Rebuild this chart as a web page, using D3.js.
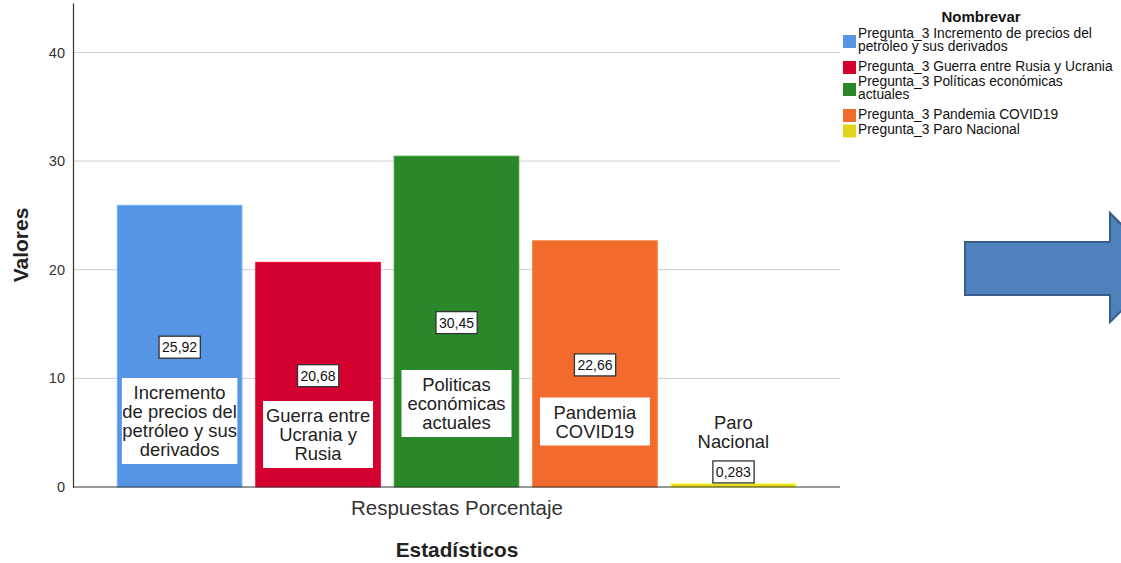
<!DOCTYPE html>
<html>
<head>
<meta charset="utf-8">
<script src="https://cdn.jsdelivr.net/npm/d3@7"></script>
<style>
  html, body { margin: 0; padding: 0; background: #fff; }
  svg { display: block; font-family: "Liberation Sans", Arial, sans-serif; }
</style>
</head>
<body>
<svg id="chart" width="1121" height="563"></svg>
<script>
// Categories, values and text
const categories = ["Incremento", "Guerra", "Politicas", "Pandemia", "Paro"];
const values = [25.92, 20.68, 30.45, 22.66, 0.283];
const valueLabels = ["25,92", "20,68", "30,45", "22,66", "0,283"];
const barLabels = [
  ["Incremento", "de precios del", "petróleo y sus", "derivados"],
  ["Guerra entre", "Ucrania y", "Rusia"],
  ["Politicas", "económicas", "actuales"],
  ["Pandemia", "COVID19"],
  ["Paro", "Nacional"]
];
const legendLabels = [
  ["Pregunta_3 Incremento de precios del", "petróleo y sus derivados"],
  ["Pregunta_3 Guerra entre Rusia y Ucrania"],
  ["Pregunta_3 Políticas económicas", "actuales"],
  ["Pregunta_3 Pandemia COVID19"],
  ["Pregunta_3 Paro Nacional"]
];
const yTicks = [0, 10, 20, 30, 40];

// Styling / layout
const colors = ["#5595e3", "#d4002f", "#2a872a", "#f26a2c", "#e0d61c"];
const boxed = [true, true, true, true, false];
const labelCenterY = [421, 434.5, 403.5, 421.5, 432]; // vertical centre of each category label block
const plot = { left: 73, right: 840, top: 3, bottom: 487 };

const svg = d3.select("#chart");

const x = d3.scaleBand()
  .domain(categories)
  .range([plot.left, plot.right])
  .paddingInner(0.1)
  .paddingOuter(0.32);

const y = d3.scaleLinear()
  .domain([0, 44.55])
  .range([plot.bottom, plot.top]);

// Grid lines
svg.append("g")
  .selectAll("line")
  .data(yTicks.filter(d => d > 0))
  .join("line")
  .attr("x1", plot.left).attr("x2", plot.right)
  .attr("y1", d => y(d)).attr("y2", d => y(d))
  .attr("stroke", "#cfcfcf").attr("stroke-width", 1);

// Y axis
const yAxis = svg.append("g")
  .attr("transform", `translate(${plot.left},0)`)
  .call(d3.axisLeft(y).tickValues(yTicks).tickSize(0).tickPadding(8).tickFormat(d3.format("d")));
yAxis.select(".domain").attr("stroke", "#333").attr("stroke-width", 1.2);
yAxis.selectAll("text").attr("font-size", 14.5).attr("fill", "#333")
  .attr("font-family", "Liberation Sans, Arial, sans-serif");

// Bars
svg.append("g")
  .selectAll("rect")
  .data(categories)
  .join("rect")
  .attr("x", d => x(d))
  .attr("width", x.bandwidth())
  .attr("y", (d, i) => y(values[i]))
  .attr("height", (d, i) => Math.max(plot.bottom - y(values[i]), 3))
  .attr("fill", (d, i) => colors[i])
  .attr("stroke", (d, i) => d3.color(colors[i]).brighter(0.5))
  .attr("stroke-width", 1);

// X baseline
svg.append("line")
  .attr("x1", plot.left).attr("x2", plot.right)
  .attr("y1", plot.bottom).attr("y2", plot.bottom)
  .attr("stroke", "#333").attr("stroke-width", 1.2);

// Category label blocks
const lineH = 19;
categories.forEach((c, i) => {
  const cx = x(c) + x.bandwidth() / 2;
  const lines = barLabels[i];
  const cy = labelCenterY[i];
  const g = svg.append("g");
  if (boxed[i]) {
    const h = lines.length * lineH + 10;
    g.append("rect")
      .attr("y", cy - h / 2)
      .attr("height", h)
      .attr("fill", "#fff");
  }
  const t = g.append("text")
    .attr("text-anchor", "middle")
    .attr("font-size", 18.4)
    .attr("fill", "#222");
  lines.forEach((ln, k) => {
    t.append("tspan")
      .attr("x", cx)
      .attr("y", cy + (k - (lines.length - 1) / 2) * lineH + 6.5)
      .text(ln);
  });
  if (boxed[i]) {
    const bb = t.node().getBBox();
    const w = Math.max(110, bb.width + 1);
    g.select("rect").attr("x", cx - w / 2).attr("width", w);
  }
});

// Value labels
categories.forEach((c, i) => {
  const cx = x(c) + x.bandwidth() / 2;
  const barTop = y(values[i]);
  const cy = values[i] > 2 ? (barTop + plot.bottom) / 2 + 1 : barTop - 12;
  const g = svg.append("g");
  const t = g.append("text")
    .attr("x", cx).attr("y", cy + 5)
    .attr("text-anchor", "middle")
    .attr("font-size", 14)
    .attr("fill", "#111")
    .text(valueLabels[i]);
  const bb = t.node().getBBox();
  g.insert("rect", "text")
    .attr("x", bb.x - 3).attr("y", cy - 11)
    .attr("width", bb.width + 6).attr("height", 22)
    .attr("fill", "#fff").attr("stroke", "#333").attr("stroke-width", 1.3);
});

// Axis titles
svg.append("text")
  .attr("transform", `translate(28,245) rotate(-90)`)
  .attr("text-anchor", "middle")
  .attr("font-size", 21).attr("font-weight", "bold").attr("fill", "#222")
  .text("Valores");

svg.append("text")
  .attr("x", 457).attr("y", 515)
  .attr("text-anchor", "middle")
  .attr("font-size", 20.5).attr("fill", "#333")
  .text("Respuestas Porcentaje");

svg.append("text")
  .attr("x", 457).attr("y", 557)
  .attr("text-anchor", "middle")
  .attr("font-size", 20.8).attr("font-weight", "bold").attr("fill", "#222")
  .text("Estadísticos");

// Legend
const legend = svg.append("g");
legend.append("text")
  .attr("x", 981).attr("y", 22)
  .attr("text-anchor", "middle")
  .attr("font-size", 15).attr("font-weight", "bold").attr("fill", "#111")
  .text("Nombrevar");

let ly = 38;
legendLabels.forEach((lines, i) => {
  const last = ly + (lines.length - 1) * 13;
  legend.append("rect")
    .attr("x", 843).attr("y", (ly + last) / 2 - 3 - 6.5)
    .attr("width", 13).attr("height", 13)
    .attr("fill", colors[i]);
  const t = legend.append("text")
    .attr("font-size", 13.8).attr("fill", "#111");
  lines.forEach((ln, k) => {
    t.append("tspan").attr("x", 858).attr("y", ly + k * 13).text(ln);
  });
  ly = last + (lines.length > 1 ? 19.5 : 15.5);
});

// Block arrow on the right
const arrow = d3.path();
arrow.moveTo(965, 242);
arrow.lineTo(1110, 242);
arrow.lineTo(1110, 213);
arrow.lineTo(1165, 268);
arrow.lineTo(1110, 322);
arrow.lineTo(1110, 295);
arrow.lineTo(965, 295);
arrow.closePath();
svg.append("path")
  .attr("d", arrow.toString())
  .attr("fill", "#4f81bd")
  .attr("stroke", "#385d8a")
  .attr("stroke-width", 2);
</script>
</body>
</html>
